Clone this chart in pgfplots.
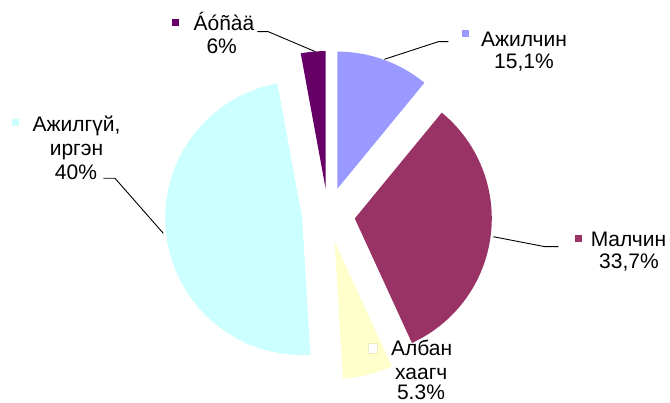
\documentclass[border=0pt]{standalone}
\usepackage{pgfplots}
\pgfplotsset{compat=1.18}
\usepackage{fontspec}
\setmainfont{Liberation Sans}
\definecolor{cA}{HTML}{9999FF}
\definecolor{cB}{HTML}{993366}
\definecolor{cC}{HTML}{FFFFCC}
\definecolor{cD}{HTML}{CCFFFF}
\definecolor{cE}{HTML}{660066}
% shares of the circle (percent), clockwise from 12 o'clock
\def\pA{10.95}% Ажилчин
\def\pB{32.2}%  Малчин
\def\pC{5.9}%   Албан хаагч
\def\pD{48.05}% Ажилгүй, иргэн
\def\pE{2.9}%   Áóñàä
% explosion offsets (px)
\def\dA{28}\def\dB{27}\def\dC{27.5}\def\dD{26}\def\dE{27}
\def\cx{328}\def\cy{215}\def\R{137}
\pgfmathsetmacro\aA{90}
\pgfmathsetmacro\aB{\aA-3.6*\pA}
\pgfmathsetmacro\aC{\aB-3.6*\pB}
\pgfmathsetmacro\aD{\aC-3.6*\pC}
\pgfmathsetmacro\aE{\aD-3.6*\pD}
\pgfmathsetmacro\aF{\aE-3.6*\pE}
\pgfmathsetmacro\txA{\cx+\dA*cos((\aA+\aB)/2)}\pgfmathsetmacro\tyA{\cy-\dA*sin((\aA+\aB)/2)}
\pgfmathsetmacro\txB{\cx+\dB*cos((\aB+\aC)/2)}\pgfmathsetmacro\tyB{\cy-\dB*sin((\aB+\aC)/2)}
\pgfmathsetmacro\txC{\cx+\dC*cos((\aC+\aD)/2)}\pgfmathsetmacro\tyC{\cy-\dC*sin((\aC+\aD)/2)}
\pgfmathsetmacro\txD{\cx+\dD*cos((\aD+\aE)/2)}\pgfmathsetmacro\tyD{\cy-\dD*sin((\aD+\aE)/2)}
\pgfmathsetmacro\txE{\cx+\dE*cos((\aE+\aF)/2)}\pgfmathsetmacro\tyE{\cy-\dE*sin((\aE+\aF)/2)}
\begin{document}
\begin{tikzpicture}[lbl/.style={anchor=base, inner sep=0pt, font=\fontsize{21}{21}\selectfont}]
\begin{axis}[x=1pt, y=1pt, xmin=0, xmax=670, ymin=0, ymax=403, y dir=reverse,
  hide axis, clip=false, samples=80]
\coordinate (BL) at (axis cs:0,403);
\coordinate (TR) at (axis cs:670,0);
% slices
\addplot[fill=cA, draw=none, domain=\aB:\aA] ({\txA+\R*cos(x)}, {\tyA-\R*sin(x)}) -- (axis cs:\txA,\tyA) -- cycle;
\addplot[fill=cB, draw=none, domain=\aC:\aB] ({\txB+\R*cos(x)}, {\tyB-\R*sin(x)}) -- (axis cs:\txB,\tyB) -- cycle;
\addplot[fill=cC, draw=none, domain=\aD:\aC] ({\txC+\R*cos(x)}, {\tyC-\R*sin(x)}) -- (axis cs:\txC,\tyC) -- cycle;
\addplot[fill=cD, draw=none, domain=\aE:\aD] ({\txD+\R*cos(x)}, {\tyD-\R*sin(x)}) -- (axis cs:\txD,\tyD) -- cycle;
\addplot[fill=cE, draw=none, domain=\aF:\aE] ({\txE+\R*cos(x)}, {\tyE-\R*sin(x)}) -- (axis cs:\txE,\tyE) -- cycle;
% leader lines
\addplot[black, line width=0.9pt] coordinates {(384.3,59.3) (438.3,41.7) (448.3,41.7)};
\addplot[black, line width=0.9pt] coordinates {(493.3,236.7) (545,246.7) (558.3,246.7)};
\addplot[black, line width=0.9pt] coordinates {(103.3,178.3) (115,178.3) (163.3,233.3)};
\addplot[black, line width=0.9pt] coordinates {(257.3,31.7) (268.3,31.7) (315,51.5)};
% legend keys
\fill[cA] (axis cs:461.5,30.5) rectangle (axis cs:468.5,37.5);
\fill[cB] (axis cs:575,235) rectangle (axis cs:582,242);
\filldraw[fill=white, draw=cC!85!gray, line width=1pt] (axis cs:368,344) rectangle (axis cs:377.5,353.5);
\fill[cD] (axis cs:11.5,119.5) rectangle (axis cs:18.5,126.5);
\fill[cE] (axis cs:171.5,19.3) rectangle (axis cs:178.5,26.3);
% labels
\node[lbl] at (axis cs:524,46.7) {Ажилчин};
\node[lbl] at (axis cs:524,68.3) {15,1\%};
\node[lbl] at (axis cs:628.5,246.7) {Малчин};
\node[lbl] at (axis cs:629,268.3) {33,7\%};
\node[lbl] at (axis cs:421.7,356) {Албан};
\node[lbl] at (axis cs:421.3,379.5) {хаагч};
\node[lbl] at (axis cs:421,399.5) {5.3\%};
\node[lbl] at (axis cs:76.5,131.7) {Ажилгүй,};
\node[lbl] at (axis cs:76.5,155.7) {иргэн};
\node[lbl] at (axis cs:76,180) {40\%};
\node[lbl] at (axis cs:224,30.7) {Áóñàä};
\node[lbl] at (axis cs:221.7,53.3) {6\%};
\end{axis}
\pgfresetboundingbox
\useasboundingbox (BL) rectangle (TR);
\end{tikzpicture}
\end{document}
